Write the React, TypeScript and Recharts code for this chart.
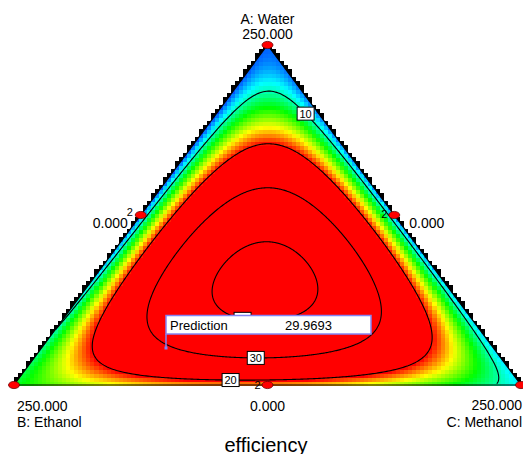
import React from 'react';
import { ComposedChart, Scatter, XAxis, YAxis } from 'recharts';

// ---------- data ----------
const componentNames = ['A: Water', 'B: Ethanol', 'C: Methanol'];
const componentHigh = ['250.000', '250.000', '250.000'];
const componentLow = ['0.000', '0.000', '0.000'];
// Scheffe mixture model (estimated): linear, binary and special-quartic terms
const linearCoef = [6.5, 12, 8.5]; // A, B, C
const binaryCoef = [-9, 0, 28]; // AB, AC, BC
const quarticCoef = [850, 880, 830]; // A^2BC, AB^2C, ABC^2
const contourLevels = [10, 20, 30, 40];
const colorRange = [5, 20];
// design points (fractions of A, B, C) and replicate counts
const designA = [1, 0, 0, 0.5, 0.5, 0];
const designB = [0, 1, 0, 0.5, 0, 0.5];
const designC = [0, 0, 1, 0, 0.5, 0.5];
const designReplicates = [1, 1, 1, 2, 2, 2];
const predictionLabel = 'Prediction';
const predictionValue = '29.9693';
const predictionPoint = [0.1088, 0.6458, 0.2454];
const responseTitle = 'efficiency';

// ---------- layout ----------
const W = 523;
const H = 454;
const MARGIN = { top: 45, right: 2, bottom: 69, left: 14 };
const PLOT_W = W - MARGIN.left - MARGIN.right;
const PLOT_H = H - MARGIN.top - MARGIN.bottom;
const NX = 126;
const NY = 85;
const CELL_W = PLOT_W / NX;
const CELL_H = PLOT_H / NY;
const FONT = '"Liberation Sans", Arial, Helvetica, sans-serif';
const labelHints: Record<number, [number, number]> = {
  10: [308, 111],
  20: [231, 375],
  30: [256, 353],
  40: [243, 316],
};

// ---------- helpers ----------
function model(A: number, B: number, C: number) {
  const [a1, a2, a3] = linearCoef;
  const [b12, b13, b23] = binaryCoef;
  const [q1, q2, q3] = quarticCoef;
  return (
    a1 * A + a2 * B + a3 * C +
    b12 * A * B + b13 * A * C + b23 * B * C +
    A * B * C * (q1 * A + q2 * B + q3 * C)
  );
}
const toXY = (A: number, B: number, C: number) => ({ x: C + A / 2, y: A });
const toABC = (x: number, y: number) => {
  const A = y;
  const C = x - A / 2;
  const B = 1 - A - C;
  return [A, B, C];
};
const inside = (x: number, y: number, eps = 1e-9) => {
  const [A, B, C] = toABC(x, y);
  return A >= -eps && B >= -eps && C >= -eps;
};
const valueAt = (x: number, y: number) => {
  const [A, B, C] = toABC(x, y);
  return model(A, B, C);
};

const STOPS = [
  [0, 0, 255],
  [0, 255, 255],
  [0, 255, 0],
  [255, 255, 0],
  [255, 0, 0],
];
function colorFor(v: number) {
  let t = (v - colorRange[0]) / (colorRange[1] - colorRange[0]);
  t = Math.max(0, Math.min(1, t));
  const s = t * (STOPS.length - 1);
  const i = Math.min(STOPS.length - 2, Math.floor(s));
  const f = s - i;
  const c = STOPS[i].map((a, k) => Math.round(a + (STOPS[i + 1][k] - a) * f));
  return `rgb(${c[0]},${c[1]},${c[2]})`;
}

// heatmap cells
const cells: { x: number; y: number; color: string; edge: boolean }[] = [];
const edgeCells: { x: number; y: number }[] = [];
const SUB = 6;
for (let j = 0; j < NY; j++) {
  for (let i = 0; i < NX; i++) {
    const x = (i + 0.5) / NX;
    const y = (j + 0.5) / NY;
    let n = 0;
    for (let a = 0; a < SUB; a++) {
      for (let b = 0; b < SUB; b++) {
        const sx = (i + (a + 0.5) / SUB) / NX;
        const sy = (j + (b + 0.5) / SUB) / NY;
        if (inside(sx, sy)) n++;
      }
    }
    if (n === 0) continue;
    const edge = n < SUB * SUB;
    cells.push({ x, y, color: colorFor(valueAt(x, y)), edge });
    if (edge) edgeCells.push({ x, y });
  }
}

// peak of the surface
let peak = { x: 0.5, y: 1 / 3, v: -Infinity };
for (let a = 0; a <= 200; a++) {
  for (let b = 0; b <= 200 - a; b++) {
    const A = a / 200, B = b / 200, C = 1 - A - B;
    const v = model(A, B, C);
    if (v > peak.v) peak = { ...toXY(A, B, C), v };
  }
}

// contours by ray marching from peak
const NRAYS = 720;
function contour(level: number) {
  const pts: ({ x: number; y: number } | null)[] = [];
  const step = 0.5;
  for (let r = 0; r < NRAYS; r++) {
    const th = (2 * Math.PI * r) / NRAYS;
    const dx = (Math.cos(th) * step) / PLOT_W;
    const dy = (Math.sin(th) * step) / PLOT_H;
    let px = peak.x, py = peak.y;
    let found: { x: number; y: number } | null = null;
    let pv = valueAt(px, py);
    for (let k = 0; k < 2000; k++) {
      const nx = px + dx, ny = py + dy;
      if (!inside(nx, ny)) break;
      const nv = valueAt(nx, ny);
      if (pv >= level && nv < level) {
        const f = (pv - level) / (pv - nv);
        found = { x: px + dx * f, y: py + dy * f };
        break;
      }
      px = nx; py = ny; pv = nv;
    }
    pts.push(found);
  }
  const nullIdx = pts.findIndex((p) => p === null);
  if (nullIdx < 0) {
    const closed = pts as { x: number; y: number }[];
    return [[...closed, closed[0]]];
  }
  const segs: { x: number; y: number }[][] = [];
  let cur: { x: number; y: number }[] = [];
  for (let k = 0; k < NRAYS; k++) {
    const p = pts[(nullIdx + k) % NRAYS];
    if (p) cur.push(p);
    else if (cur.length) { segs.push(cur); cur = []; }
  }
  if (cur.length) segs.push(cur);
  return segs.filter((s) => s.length > 1);
}
const contourSegs = contourLevels.map((lv) => ({ level: lv, segs: contour(lv) }));

// label positions: nearest contour point to layout hint
const contourLabels = contourSegs.map(({ level, segs }) => {
  const [hx, hy] = labelHints[level];
  let best = { x: 0, y: 0, d: Infinity };
  segs.forEach((s) =>
    s.forEach((p) => {
      const px = MARGIN.left + p.x * PLOT_W;
      const py = MARGIN.top + (1 - p.y) * PLOT_H;
      const d = (px - hx) ** 2 + (py - hy) ** 2;
      if (d < best.d) best = { x: p.x, y: p.y, d };
    })
  );
  return { x: best.x, y: best.y, text: String(level) };
});

const designPts = designA.map((a, i) => ({
  ...toXY(a, designB[i], designC[i]),
  idx: i,
  reps: designReplicates[i],
}));
const outline = [
  toXY(1, 0, 0),
  toXY(0, 1, 0),
  toXY(0, 0, 1),
  toXY(1, 0, 0),
];
const predPt = [{ ...toXY(predictionPoint[0], predictionPoint[1], predictionPoint[2]) }];
const titlePt = [{ ...toXY(0, 0.5, 0.5) }];

type L = { t: string; dx: number; dy: number; anchor: 'start' | 'middle' | 'end'; size: number };
const designLabelLayout: L[][] = [
  [
    { t: componentNames[0], dx: 0, dy: -21, anchor: 'middle', size: 14 },
    { t: componentHigh[0], dx: 0, dy: -6, anchor: 'middle', size: 14 },
  ],
  [
    { t: componentHigh[1], dx: 3, dy: 26, anchor: 'start', size: 14 },
    { t: componentNames[1], dx: 3, dy: 42, anchor: 'start', size: 14 },
  ],
  [
    { t: componentHigh[2], dx: 1, dy: 25, anchor: 'end', size: 14 },
    { t: componentNames[2], dx: 1, dy: 42, anchor: 'end', size: 14 },
  ],
  [{ t: componentLow[2], dx: -13, dy: 13, anchor: 'end', size: 14 }],
  [{ t: componentLow[1], dx: 15, dy: 13, anchor: 'start', size: 14 }],
  [{ t: componentLow[0], dx: 0, dy: 26, anchor: 'middle', size: 14 }],
];
const repLayout: Record<number, [number, number]> = {
  3: [-8, 1],
  4: [-7, 3],
  5: [-7, 4],
};

const Empty = () => <g />;

const OutlineLine = (lp: any) => {
  const pts: { x: number; y: number }[] = lp.points || [];
  if (!pts.length) return <g />;
  const d = pts.map((p, i) => `${i ? 'L' : 'M'}${p.x},${p.y}`).join(' ') + ' Z';
  return (
    <g>
      <defs>
        <clipPath id="triClip">
          <path d={d} />
        </clipPath>
      </defs>
      <path d={d} fill="none" stroke="#000" strokeWidth={1.2} />
    </g>
  );
};

export default function App() {
  return (
    <div style={{ position: 'absolute', left: 0, top: 0, width: W, height: H, background: '#fff' }}>
      <ComposedChart width={W} height={H} margin={MARGIN}>
        <XAxis type="number" dataKey="x" domain={[0, 1]} hide />
        <YAxis type="number" dataKey="y" domain={[0, 1]} hide />
        <Scatter
          data={edgeCells}
          isAnimationActive={false}
          shape={(p: any) => (
            <rect
              x={p.cx - CELL_W / 2}
              y={p.cy - CELL_H / 2}
              width={CELL_W}
              height={CELL_H}
              fill="#000"
              shapeRendering="crispEdges"
            />
          )}
        />
        <Scatter
          data={cells}
          isAnimationActive={false}
          shape={(p: any) => (
            <rect
              x={p.cx - CELL_W / 2}
              y={p.cy - CELL_H / 2}
              width={CELL_W + 0.5}
              height={CELL_H + 0.5}
              fill={p.payload.color}
              clipPath={p.payload.edge ? 'url(#triClip)' : undefined}
              shapeRendering="crispEdges"
            />
          )}
        />
        <Scatter data={outline} isAnimationActive={false} line={OutlineLine} shape={Empty} />
        {contourSegs.flatMap(({ level, segs }) =>
          segs.map((s, k) => (
            <Scatter
              key={`c${level}-${k}`}
              data={s}
              isAnimationActive={false}
              line={{ stroke: '#000', strokeWidth: 1.1 }}
              shape={Empty}
            />
          ))
        )}
        <Scatter
          data={contourLabels}
          isAnimationActive={false}
          shape={(p: any) => (
            <g>
              <rect x={p.cx - 8.5} y={p.cy - 6.5} width={17} height={13} fill="#fff" stroke="#000" strokeWidth={1} />
              <text x={p.cx} y={p.cy + 4} textAnchor="middle" fontSize={11} fontFamily={FONT} fill="#000">
                {p.payload.text}
              </text>
            </g>
          )}
        />
        <Scatter
          data={predPt}
          isAnimationActive={false}
          shape={(p: any) => (
            <g>
              <line x1={p.cx} y1={p.cy} x2={p.cx} y2={p.cy - 14} stroke="#8484f4" strokeWidth={1.5} />
              <rect x={p.cx - 1.5} y={p.cy - 1.5} width={3} height={3} fill="#8484f4" />
              <rect x={p.cx} y={p.cy - 32.5} width={205} height={18.5} fill="#fff" stroke="#8484f4" strokeWidth={1.5} />
              <text x={p.cx + 4} y={p.cy - 18.5} fontSize={13} fontFamily={FONT} fill="#000">
                {predictionLabel}
              </text>
              <text x={p.cx + 119} y={p.cy - 18.5} fontSize={13} fontFamily={FONT} fill="#000">
                {predictionValue}
              </text>
            </g>
          )}
        />
        <Scatter
          data={designPts}
          isAnimationActive={false}
          shape={(p: any) => {
            const i = p.payload.idx;
            const rep = repLayout[i];
            return (
              <g>
                <ellipse cx={p.cx} cy={p.cy} rx={5.5} ry={3.6} fill="#ff0000" stroke="#6a0000" strokeWidth={0.8} />
                {p.payload.reps > 1 && rep && (
                  <text x={p.cx + rep[0]} y={p.cy + rep[1]} textAnchor="end" fontSize={11} fontFamily={FONT} fill="#000">
                    {String(p.payload.reps)}
                  </text>
                )}
                {designLabelLayout[i].map((l, k) => (
                  <text
                    key={k}
                    x={p.cx + l.dx}
                    y={p.cy + l.dy}
                    textAnchor={l.anchor}
                    fontSize={l.size}
                    fontFamily={FONT}
                    fill="#000"
                  >
                    {l.t}
                  </text>
                ))}
              </g>
            );
          }}
        />
        <Scatter
          data={titlePt}
          isAnimationActive={false}
          shape={(p: any) => (
            <text x={p.cx - 1.5} y={p.cy + 67} textAnchor="middle" fontSize={20} fontFamily={FONT} fill="#000">
              {responseTitle}
            </text>
          )}
        />
      </ComposedChart>
    </div>
  );
}
